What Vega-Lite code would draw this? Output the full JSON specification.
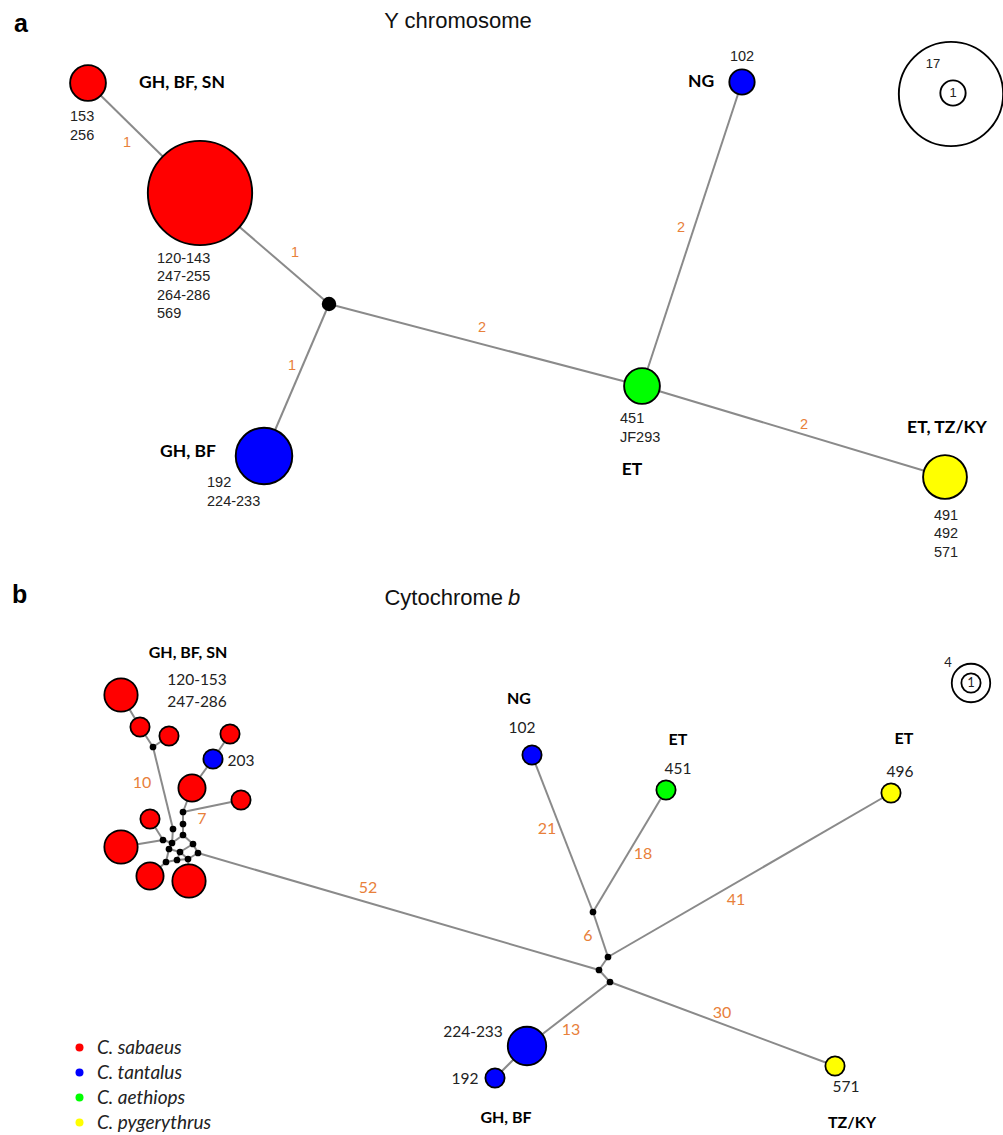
{
  "$schema": "https://vega.github.io/schema/vega-lite/v6.json",
  "width": 1003,
  "height": 1135,
  "autosize": {"type": "fit", "contains": "padding"},
  "padding": 0,
  "background": "white",
  "config": {"view": {"stroke": null}},
  "datasets": {
    "vertices": [
      {"id": "a1", "panel": "a", "kind": "haplotype", "x": 88, "y": 83, "n": 2, "species": "C. sabaeus"},
      {"id": "a2", "panel": "a", "kind": "haplotype", "x": 200, "y": 193, "n": 17, "species": "C. sabaeus"},
      {"id": "am", "panel": "a", "kind": "median", "x": 329, "y": 304},
      {"id": "a4", "panel": "a", "kind": "haplotype", "x": 264, "y": 456, "n": 5, "species": "C. tantalus"},
      {"id": "a5", "panel": "a", "kind": "haplotype", "x": 642, "y": 386, "n": 2, "species": "C. aethiops"},
      {"id": "a6", "panel": "a", "kind": "haplotype", "x": 742, "y": 82, "n": 1, "species": "C. tantalus"},
      {"id": "a7", "panel": "a", "kind": "haplotype", "x": 945, "y": 477, "n": 3, "species": "C. pygerythrus"},
      {"id": "ka17", "panel": "a", "kind": "key", "x": 951, "y": 94, "n": 17},
      {"id": "ka1", "panel": "a", "kind": "key", "x": 953, "y": 93, "n": 1},
      {"id": "b1", "panel": "b", "kind": "haplotype", "x": 121, "y": 695, "n": 3, "species": "C. sabaeus"},
      {"id": "b2", "panel": "b", "kind": "haplotype", "x": 140, "y": 727, "n": 1, "species": "C. sabaeus"},
      {"id": "b3", "panel": "b", "kind": "haplotype", "x": 169, "y": 736, "n": 1, "species": "C. sabaeus"},
      {"id": "b4", "panel": "b", "kind": "haplotype", "x": 230, "y": 734, "n": 1, "species": "C. sabaeus"},
      {"id": "b5", "panel": "b", "kind": "haplotype", "x": 213, "y": 759, "n": 1, "species": "C. tantalus"},
      {"id": "b6", "panel": "b", "kind": "haplotype", "x": 192, "y": 788, "n": 2, "species": "C. sabaeus"},
      {"id": "b7", "panel": "b", "kind": "haplotype", "x": 241, "y": 800, "n": 1, "species": "C. sabaeus"},
      {"id": "b8", "panel": "b", "kind": "haplotype", "x": 150, "y": 819, "n": 1, "species": "C. sabaeus"},
      {"id": "b9", "panel": "b", "kind": "haplotype", "x": 121, "y": 847, "n": 3, "species": "C. sabaeus"},
      {"id": "b10", "panel": "b", "kind": "haplotype", "x": 150, "y": 876, "n": 2, "species": "C. sabaeus"},
      {"id": "b11", "panel": "b", "kind": "haplotype", "x": 189, "y": 881, "n": 3, "species": "C. sabaeus"},
      {"id": "b12", "panel": "b", "kind": "haplotype", "x": 532, "y": 755, "n": 1, "species": "C. tantalus"},
      {"id": "b13", "panel": "b", "kind": "haplotype", "x": 666, "y": 790, "n": 1, "species": "C. aethiops"},
      {"id": "b14", "panel": "b", "kind": "haplotype", "x": 891, "y": 793, "n": 1, "species": "C. pygerythrus"},
      {"id": "b15", "panel": "b", "kind": "haplotype", "x": 527, "y": 1046, "n": 4, "species": "C. tantalus"},
      {"id": "b16", "panel": "b", "kind": "haplotype", "x": 495, "y": 1078, "n": 1, "species": "C. tantalus"},
      {"id": "b17", "panel": "b", "kind": "haplotype", "x": 835, "y": 1066, "n": 1, "species": "C. pygerythrus"},
      {"id": "m0", "panel": "b", "kind": "median", "x": 153, "y": 747},
      {"id": "d1", "panel": "b", "kind": "median", "x": 183, "y": 812},
      {"id": "d2", "panel": "b", "kind": "median", "x": 183, "y": 824},
      {"id": "d3", "panel": "b", "kind": "median", "x": 173, "y": 829},
      {"id": "d4", "panel": "b", "kind": "median", "x": 183, "y": 835},
      {"id": "d5", "panel": "b", "kind": "median", "x": 163, "y": 840},
      {"id": "d6", "panel": "b", "kind": "median", "x": 172, "y": 843},
      {"id": "d7", "panel": "b", "kind": "median", "x": 193, "y": 844},
      {"id": "d8", "panel": "b", "kind": "median", "x": 169, "y": 849},
      {"id": "d9", "panel": "b", "kind": "median", "x": 180, "y": 852},
      {"id": "d10", "panel": "b", "kind": "median", "x": 198, "y": 853},
      {"id": "d11", "panel": "b", "kind": "median", "x": 166, "y": 862},
      {"id": "d12", "panel": "b", "kind": "median", "x": 177, "y": 860},
      {"id": "d13", "panel": "b", "kind": "median", "x": 188, "y": 859},
      {"id": "j1", "panel": "b", "kind": "median", "x": 593, "y": 912},
      {"id": "j3", "panel": "b", "kind": "median", "x": 608, "y": 957},
      {"id": "j2", "panel": "b", "kind": "median", "x": 599, "y": 970},
      {"id": "j4", "panel": "b", "kind": "median", "x": 610, "y": 982},
      {"id": "kb4", "panel": "b", "kind": "key", "x": 971, "y": 683, "n": 4},
      {"id": "kb1", "panel": "b", "kind": "key", "x": 971, "y": 683, "n": 1}
    ],
    "edges": [
      {"source": "a1", "target": "a2"},
      {"source": "a2", "target": "am"},
      {"source": "am", "target": "a4"},
      {"source": "am", "target": "a5"},
      {"source": "a5", "target": "a6"},
      {"source": "a5", "target": "a7"},
      {"source": "b1", "target": "b2"},
      {"source": "b2", "target": "m0"},
      {"source": "b3", "target": "m0"},
      {"source": "m0", "target": "d3"},
      {"source": "b4", "target": "b5"},
      {"source": "b5", "target": "b6"},
      {"source": "b6", "target": "d1"},
      {"source": "b7", "target": "d1"},
      {"source": "d1", "target": "d2"},
      {"source": "d2", "target": "d4"},
      {"source": "d3", "target": "d6"},
      {"source": "d4", "target": "d6"},
      {"source": "d5", "target": "d6"},
      {"source": "b8", "target": "d5"},
      {"source": "b9", "target": "d5"},
      {"source": "d4", "target": "d7"},
      {"source": "d6", "target": "d8"},
      {"source": "d8", "target": "d9"},
      {"source": "d7", "target": "d9"},
      {"source": "d7", "target": "d10"},
      {"source": "d9", "target": "d13"},
      {"source": "d10", "target": "d13"},
      {"source": "d8", "target": "d11"},
      {"source": "d11", "target": "d12"},
      {"source": "d12", "target": "d9"},
      {"source": "d12", "target": "d13"},
      {"source": "d11", "target": "b10"},
      {"source": "d13", "target": "b11"},
      {"source": "d10", "target": "j2"},
      {"source": "j2", "target": "j3"},
      {"source": "j3", "target": "j1"},
      {"source": "j1", "target": "b12"},
      {"source": "j1", "target": "b13"},
      {"source": "j3", "target": "b14"},
      {"source": "j2", "target": "j4"},
      {"source": "j4", "target": "b15"},
      {"source": "j4", "target": "b17"},
      {"source": "b15", "target": "b16"}
    ]
  },
  "encoding": {
    "x": {"field": "x", "type": "quantitative", "scale": {"domain": [0, 1003], "nice": false, "zero": false}, "axis": null},
    "y": {"field": "y", "type": "quantitative", "scale": {"domain": [0, 1135], "nice": false, "zero": false, "reverse": true}, "axis": null}
  },
  "layer": [
    {
      "data": {"name": "edges"},
      "transform": [
        {"lookup": "source", "from": {"data": {"name": "vertices"}, "key": "id", "fields": ["x", "y"]}},
        {"lookup": "target", "from": {"data": {"name": "vertices"}, "key": "id", "fields": ["x", "y"]}, "as": ["x2", "y2"]}
      ],
      "mark": {"type": "rule", "color": "#8a8a8a", "strokeWidth": 2},
      "encoding": {"x2": {"field": "x2"}, "y2": {"field": "y2"}}
    },
    {
      "data": {"name": "vertices"},
      "transform": [{"filter": "datum.kind === 'haplotype' && datum.panel === 'a'"}],
      "mark": {"type": "point", "shape": "circle", "filled": true, "opacity": 1, "stroke": "black", "strokeWidth": 1.9},
      "encoding": {
        "size": {"field": "n", "type": "quantitative", "scale": {"domain": [0, 17], "range": [0, 10880]}, "legend": null},
        "fill": {
          "field": "species", "type": "nominal",
          "scale": {"domain": ["C. sabaeus", "C. tantalus", "C. aethiops", "C. pygerythrus"], "range": ["#ff0000", "#0000ff", "#00ff00", "#ffff00"]},
          "legend": {"title": null, "orient": "none", "legendX": 70, "legendY": 1038, "padding": 0, "symbolType": "circle", "symbolSize": 64, "symbolStrokeWidth": 0, "symbolOpacity": 1, "labelFont": "Lato", "labelFontSize": 19, "labelFontStyle": "italic", "labelColor": "#222222", "labelOffset": 8, "rowPadding": 5}
        }
      }
    },
    {
      "data": {"name": "vertices"},
      "transform": [{"filter": "datum.kind === 'haplotype' && datum.panel === 'b'"}],
      "mark": {"type": "point", "shape": "circle", "filled": true, "opacity": 1, "stroke": "black", "strokeWidth": 1.8},
      "encoding": {
        "size": {"field": "n", "type": "quantitative", "scale": {"domain": [0, 4], "range": [0, 1480]}, "legend": null},
        "fill": {
          "field": "species", "type": "nominal",
          "scale": {"domain": ["C. sabaeus", "C. tantalus", "C. aethiops", "C. pygerythrus"], "range": ["#ff0000", "#0000ff", "#00ff00", "#ffff00"]},
          "legend": {"title": null, "orient": "none", "legendX": 70, "legendY": 1038, "padding": 0, "symbolType": "circle", "symbolSize": 64, "symbolStrokeWidth": 0, "symbolOpacity": 1, "labelFont": "Lato", "labelFontSize": 19, "labelFontStyle": "italic", "labelColor": "#222222", "labelOffset": 8, "rowPadding": 5}
        }
      }
    },
    {
      "data": {"name": "vertices"},
      "transform": [{"filter": "datum.kind === 'median' && datum.panel === 'a'"}],
      "mark": {"type": "point", "shape": "circle", "filled": true, "opacity": 1, "color": "black", "size": 210}
    },
    {
      "data": {"name": "vertices"},
      "transform": [{"filter": "datum.kind === 'median' && datum.panel === 'b'"}],
      "mark": {"type": "point", "shape": "circle", "filled": true, "opacity": 1, "color": "black", "size": 45}
    },
    {
      "data": {"name": "vertices"},
      "transform": [{"filter": "datum.kind === 'key' && datum.panel === 'a'"}],
      "mark": {"type": "point", "shape": "circle", "filled": false, "opacity": 1, "stroke": "black", "strokeWidth": 1.9, "clip": true},
      "encoding": {"size": {"field": "n", "type": "quantitative", "scale": {"domain": [0, 17], "range": [0, 10880]}, "legend": null}}
    },
    {
      "data": {"name": "vertices"},
      "transform": [{"filter": "datum.kind === 'key' && datum.panel === 'b'"}],
      "mark": {"type": "point", "shape": "circle", "filled": false, "opacity": 1, "stroke": "black", "strokeWidth": 1.8},
      "encoding": {"size": {"field": "n", "type": "quantitative", "scale": {"domain": [0, 4], "range": [0, 1480]}, "legend": null}}
    },
    {
      "data": {"values": [{"x": 14, "y": 24, "t": "a"}, {"x": 12, "y": 595, "t": "b"}]},
      "mark": {"type": "text", "align": "left", "baseline": "middle", "font": "Liberation Sans", "fontWeight": "bold", "fontSize": 25, "color": "black"},
      "encoding": {"text": {"field": "t"}}
    },
    {
      "data": {"values": [{"x": 458, "y": 21, "t": "Y chromosome"}]},
      "mark": {"type": "text", "align": "center", "baseline": "middle", "font": "Liberation Sans", "fontSize": 22, "color": "#111111"},
      "encoding": {"text": {"field": "t"}}
    },
    {
      "data": {"values": [{"x": 503, "y": 598, "t": "Cytochrome"}]},
      "mark": {"type": "text", "align": "right", "baseline": "middle", "font": "Liberation Sans", "fontSize": 22, "color": "#111111"},
      "encoding": {"text": {"field": "t"}}
    },
    {
      "data": {"values": [{"x": 508, "y": 598, "t": "b"}]},
      "mark": {"type": "text", "align": "left", "baseline": "middle", "font": "Liberation Sans", "fontStyle": "italic", "fontSize": 22, "color": "#111111"},
      "encoding": {"text": {"field": "t"}}
    },
    {
      "data": {"values": [
        {"x": 182, "y": 83, "t": "GH, BF, SN"},
        {"x": 701, "y": 82, "t": "NG"},
        {"x": 188, "y": 452, "t": "GH, BF"},
        {"x": 632, "y": 470, "t": "ET"},
        {"x": 947, "y": 428, "t": "ET, TZ/KY"}
      ]},
      "mark": {"type": "text", "align": "center", "baseline": "middle", "font": "Lato", "fontWeight": "bold", "fontSize": 17.5, "color": "black"},
      "encoding": {"text": {"field": "t"}}
    },
    {
      "data": {"values": [
        {"x": 188, "y": 653, "t": "GH, BF, SN"},
        {"x": 519, "y": 699, "t": "NG"},
        {"x": 678, "y": 740, "t": "ET"},
        {"x": 904, "y": 739, "t": "ET"},
        {"x": 506, "y": 1118, "t": "GH, BF"},
        {"x": 852, "y": 1123, "t": "TZ/KY"}
      ]},
      "mark": {"type": "text", "align": "center", "baseline": "middle", "font": "Lato", "fontWeight": "bold", "fontSize": 16, "color": "black"},
      "encoding": {"text": {"field": "t"}}
    },
    {
      "data": {"values": [
        {"x": 70, "y": 117, "t": "153"},
        {"x": 70, "y": 136, "t": "256"},
        {"x": 157, "y": 259, "t": "120-143"},
        {"x": 157, "y": 277, "t": "247-255"},
        {"x": 157, "y": 296, "t": "264-286"},
        {"x": 157, "y": 314, "t": "569"},
        {"x": 207, "y": 483, "t": "192"},
        {"x": 207, "y": 502, "t": "224-233"},
        {"x": 620, "y": 419, "t": "451"},
        {"x": 620, "y": 438, "t": "JF293"}
      ]},
      "mark": {"type": "text", "align": "left", "baseline": "middle", "font": "Liberation Sans", "fontSize": 14.5, "color": "#222222"},
      "encoding": {"text": {"field": "t"}}
    },
    {
      "data": {"values": [
        {"x": 742, "y": 57, "t": "102"},
        {"x": 946, "y": 516, "t": "491"},
        {"x": 946, "y": 534, "t": "492"},
        {"x": 946, "y": 553, "t": "571"}
      ]},
      "mark": {"type": "text", "align": "center", "baseline": "middle", "font": "Liberation Sans", "fontSize": 14.5, "color": "#222222"},
      "encoding": {"text": {"field": "t"}}
    },
    {
      "data": {"values": [{"x": 933, "y": 64, "t": "17"}, {"x": 953, "y": 93, "t": "1"}]},
      "mark": {"type": "text", "align": "center", "baseline": "middle", "font": "Liberation Sans", "fontSize": 13, "color": "#222222"},
      "encoding": {"text": {"field": "t"}}
    },
    {
      "data": {"values": [
        {"x": 197, "y": 680, "t": "120-153"},
        {"x": 197, "y": 702, "t": "247-286"},
        {"x": 241, "y": 761, "t": "203"},
        {"x": 522, "y": 728, "t": "102"},
        {"x": 678, "y": 769, "t": "451"},
        {"x": 900, "y": 772, "t": "496"},
        {"x": 473, "y": 1032, "t": "224-233"},
        {"x": 465, "y": 1079, "t": "192"},
        {"x": 846, "y": 1087, "t": "571"}
      ]},
      "mark": {"type": "text", "align": "center", "baseline": "middle", "font": "Lato", "fontSize": 15.5, "color": "#222222"},
      "encoding": {"text": {"field": "t"}}
    },
    {
      "data": {"values": [{"x": 948, "y": 663, "t": "4"}, {"x": 971, "y": 683, "t": "1"}]},
      "mark": {"type": "text", "align": "center", "baseline": "middle", "font": "Lato", "fontSize": 13, "color": "#222222"},
      "encoding": {"text": {"field": "t"}}
    },
    {
      "data": {"values": [
        {"x": 127, "y": 143, "t": "1"},
        {"x": 295, "y": 253, "t": "1"},
        {"x": 292, "y": 366, "t": "1"},
        {"x": 482, "y": 328, "t": "2"},
        {"x": 681, "y": 228, "t": "2"},
        {"x": 804, "y": 425, "t": "2"}
      ]},
      "mark": {"type": "text", "align": "center", "baseline": "middle", "font": "Liberation Sans", "fontSize": 14.5, "color": "#e8803a"},
      "encoding": {"text": {"field": "t"}}
    },
    {
      "data": {"values": [
        {"x": 142, "y": 783, "t": "10"},
        {"x": 202, "y": 819, "t": "7"},
        {"x": 368, "y": 888, "t": "52"},
        {"x": 547, "y": 829, "t": "21"},
        {"x": 643, "y": 854, "t": "18"},
        {"x": 736, "y": 900, "t": "41"},
        {"x": 588, "y": 936, "t": "6"},
        {"x": 722, "y": 1013, "t": "30"},
        {"x": 571, "y": 1030, "t": "13"}
      ]},
      "mark": {"type": "text", "align": "center", "baseline": "middle", "font": "Lato", "fontSize": 16, "color": "#e8803a"},
      "encoding": {"text": {"field": "t"}}
    }
  ],
  "resolve": {"scale": {"size": "independent"}}
}
